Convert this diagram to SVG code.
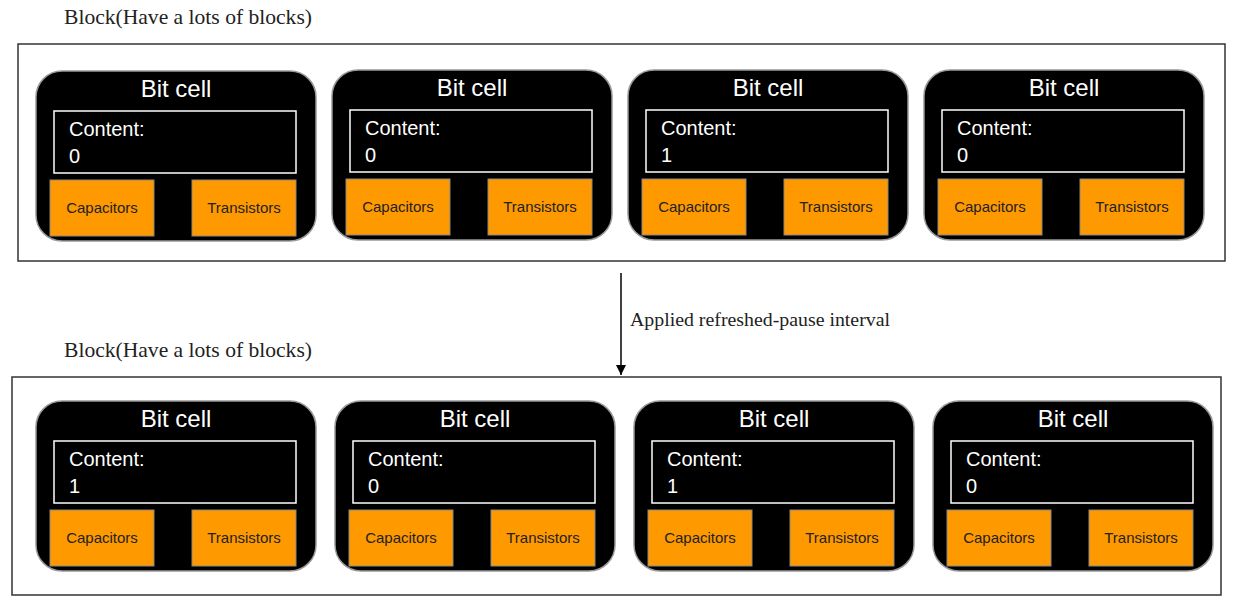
<svg xmlns="http://www.w3.org/2000/svg" width="1239" height="606" viewBox="0 0 1239 606">
<defs>
<style>
.blk{fill:#fff;stroke:#333;stroke-width:1.5}
.cell{fill:#000;stroke:#999;stroke-width:1.5}
.cont{fill:#000;stroke:#fff;stroke-width:1.5}
.part{fill:#ff9900;stroke:#888;stroke-width:1}
.title{font-family:"Liberation Sans",Arial,sans-serif;font-size:24px;fill:#fff;text-anchor:middle}
.ct{font-family:"Liberation Sans",Arial,sans-serif;font-size:20px;fill:#fff}
.pt{font-family:"Liberation Sans",Arial,sans-serif;font-size:15px;fill:#222;text-anchor:middle}
.hdr{font-family:"Liberation Serif","Times New Roman",serif;font-size:21px;fill:#222}
.lbl{font-family:"Liberation Serif","Times New Roman",serif;font-size:18px;fill:#222}
</style>
<marker id="ah" viewBox="0 0 10 10" refX="10" refY="5" markerWidth="10" markerHeight="10" markerUnits="userSpaceOnUse" orient="auto">
<path d="M0,0 L10,5 L0,10 z" fill="#000"/>
</marker>
<g id="cellshape">
<rect class="cell" x="0" y="0" width="280" height="170" rx="26" ry="26"/>
<text class="title" x="140" y="26">Bit cell</text>
<rect class="cont" x="18" y="40" width="242" height="62"/>
<text class="ct" x="33" y="65">Content:</text>
<rect class="part" x="14" y="109" width="104" height="56"/>
<text class="pt" x="66" y="142">Capacitors</text>
<rect class="part" x="156" y="109" width="104" height="56"/>
<text class="pt" x="208" y="142">Transistors</text>
</g>
</defs>

<g id="block-top">
<text class="hdr" x="64" y="24" textLength="248" lengthAdjust="spacingAndGlyphs">Block(Have a lots of blocks)</text>
<rect class="blk" x="18" y="44" width="1207" height="217"/>
</g>
<g id="block-bottom">
<text class="hdr" x="64" y="357" textLength="248" lengthAdjust="spacingAndGlyphs">Block(Have a lots of blocks)</text>
<rect class="blk" x="12" y="377" width="1209" height="218"/>
</g>

<g id="top-cell-1" transform="translate(36,71)"><use href="#cellshape"/><text class="ct" x="33" y="92">0</text></g>
<g id="top-cell-2" transform="translate(332,70)"><use href="#cellshape"/><text class="ct" x="33" y="92">0</text></g>
<g id="top-cell-3" transform="translate(628,70)"><use href="#cellshape"/><text class="ct" x="33" y="92">1</text></g>
<g id="top-cell-4" transform="translate(924,70)"><use href="#cellshape"/><text class="ct" x="33" y="92">0</text></g>

<g id="bottom-cell-1" transform="translate(36,401)"><use href="#cellshape"/><text class="ct" x="33" y="92">1</text></g>
<g id="bottom-cell-2" transform="translate(335,401)"><use href="#cellshape"/><text class="ct" x="33" y="92">0</text></g>
<g id="bottom-cell-3" transform="translate(634,401)"><use href="#cellshape"/><text class="ct" x="33" y="92">1</text></g>
<g id="bottom-cell-4" transform="translate(933,401)"><use href="#cellshape"/><text class="ct" x="33" y="92">0</text></g>

<g id="connectors">
<line x1="621" y1="273" x2="621" y2="375" stroke="#000" stroke-width="1.5" marker-end="url(#ah)"/>
<text class="lbl" x="630" y="326" textLength="260" lengthAdjust="spacingAndGlyphs">Applied refreshed-pause interval</text>
</g>
</svg>
